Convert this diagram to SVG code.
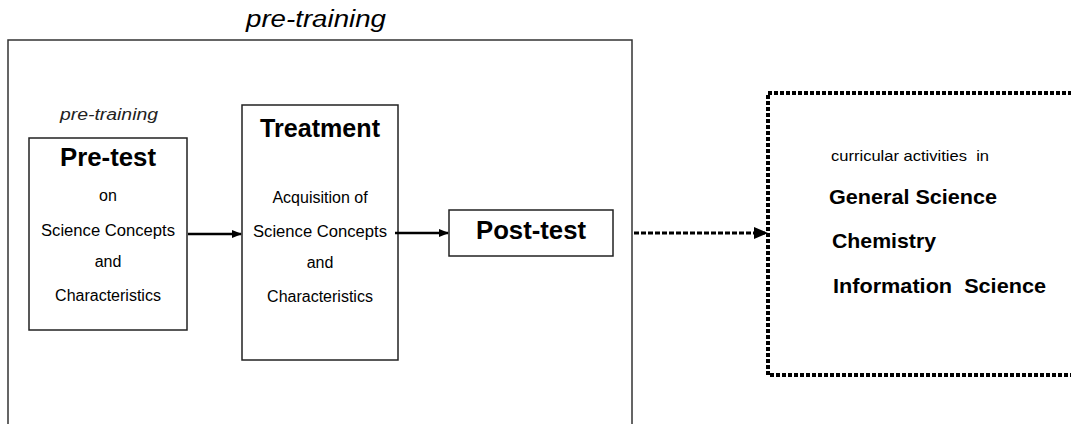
<svg xmlns="http://www.w3.org/2000/svg" width="1071" height="424" viewBox="0 0 1071 424">
<style>
  text { font-family: "Liberation Sans", Arial, sans-serif; fill: #000; }
  .box { fill: #fff; stroke: #222; stroke-width: 1.5; }
  .frame { fill: none; stroke: #333; stroke-width: 1.5; }
  .dotbox { fill: none; stroke: #000; stroke-width: 4; stroke-dasharray: 4 2; }
  .title { font-size: 23px; font-style: italic; }
  .sub { font-size: 16px; font-style: italic; fill: #222; }
  .head { font-size: 25px; font-weight: bold; }
  .body { font-size: 16px; }
  .cur { font-size: 15px; }
  .subj { font-size: 21px; font-weight: bold; }
  .conn { stroke: #000; stroke-width: 2.5; fill: none; }
  .dconn { stroke: #000; stroke-width: 3; fill: none; stroke-dasharray: 5 2; }
</style>
<defs>
  <marker id="arr" markerWidth="10" markerHeight="8" refX="9" refY="4" orient="auto" markerUnits="userSpaceOnUse">
    <path d="M0,0 L10,4 L0,8 Z" fill="#000"/>
  </marker>
  <marker id="arrB" markerWidth="14" markerHeight="12" refX="13" refY="6" orient="auto" markerUnits="userSpaceOnUse">
    <path d="M0,0 L14,6 L0,12 Z" fill="#000"/>
  </marker>
</defs>
<rect width="1071" height="424" fill="#fff"/>

<g id="pretraining-frame">
  <rect class="frame" x="8" y="40" width="624" height="420"/>
  <text class="title" x="316" y="27" text-anchor="middle" textLength="140" lengthAdjust="spacingAndGlyphs">pre-training</text>
  <text class="sub" x="109" y="120" text-anchor="middle" textLength="98" lengthAdjust="spacingAndGlyphs">pre-training</text>
</g>

<g id="pretest">
  <rect class="box" x="29" y="138" width="158" height="192"/>
  <text class="head" x="108" y="166" text-anchor="middle" textLength="96" lengthAdjust="spacingAndGlyphs">Pre-test</text>
  <text class="body" x="108" y="201" text-anchor="middle">on</text>
  <text class="body" x="108" y="236" text-anchor="middle" textLength="134" lengthAdjust="spacingAndGlyphs">Science Concepts</text>
  <text class="body" x="108" y="267" text-anchor="middle">and</text>
  <text class="body" x="108" y="301" text-anchor="middle">Characteristics</text>
</g>

<g id="treatment">
  <rect class="box" x="242" y="105" width="156" height="255"/>
  <text class="head" x="320" y="137" text-anchor="middle" textLength="120" lengthAdjust="spacingAndGlyphs">Treatment</text>
  <text class="body" x="320" y="203" text-anchor="middle">Acquisition of</text>
  <text class="body" x="320" y="237" text-anchor="middle" textLength="134" lengthAdjust="spacingAndGlyphs">Science Concepts</text>
  <text class="body" x="320" y="268" text-anchor="middle">and</text>
  <text class="body" x="320" y="302" text-anchor="middle">Characteristics</text>
</g>

<g id="posttest">
  <rect class="box" x="449" y="210" width="164" height="46"/>
  <text class="head" x="531" y="239" text-anchor="middle" textLength="110" lengthAdjust="spacingAndGlyphs">Post-test</text>
</g>

<g id="curricular">
  <rect class="dotbox" x="768" y="93" width="420" height="282"/>
  <text class="cur" x="831" y="161" xml:space="preserve" textLength="158" lengthAdjust="spacingAndGlyphs">curricular activities  in</text>
  <text class="subj" x="829" y="204" textLength="168" lengthAdjust="spacingAndGlyphs">General Science</text>
  <text class="subj" x="832" y="248" textLength="104" lengthAdjust="spacingAndGlyphs">Chemistry</text>
  <text class="subj" x="833" y="293" xml:space="preserve" textLength="213" lengthAdjust="spacingAndGlyphs">Information  Science</text>
</g>

<g id="connectors">
  <line class="conn" x1="188" y1="234" x2="241" y2="234" marker-end="url(#arr)"/>
  <line class="conn" x1="395" y1="233" x2="448" y2="233" marker-end="url(#arr)"/>
  <line class="dconn" x1="634" y1="233" x2="767" y2="233" marker-end="url(#arrB)"/>
</g>
</svg>
